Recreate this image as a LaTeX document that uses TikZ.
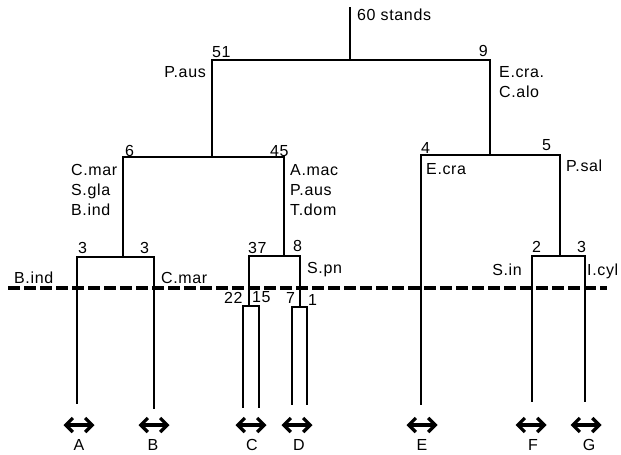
\documentclass[tikz,border=0pt]{standalone}
\usepackage{fontspec}
\setmainfont{Liberation Sans}[LetterSpace=4]
\usetikzlibrary{arrows.meta}

\begin{document}
\begin{tikzpicture}[x=1pt,y=-1pt,font=\fontsize{16}{19}\selectfont,
  every node/.style={inner sep=0pt},
  tree/.style={line width=2.7pt,line cap=rect},
  cut/.style={line width=3.8pt,dash pattern=on 12pt off 4pt},
  span/.style={line width=3.2pt,{Straight Barb[length=7pt,width=14pt]}-{Straight Barb[length=7pt,width=14pt]}}]
\useasboundingbox (0,0) rectangle (621,455);
% branch points
\coordinate (top) at (350,8);
\coordinate (n60) at (350,60);
\coordinate (n51) at (212,60);
\coordinate (n9) at (490,60);
\coordinate (n6) at (123,157);
\coordinate (n45) at (284,157);
\coordinate (n4) at (421,155);
\coordinate (n5) at (560,155);
\coordinate (n3a) at (77,257);
\coordinate (n3b) at (154,257);
\coordinate (n37) at (249,256);
\coordinate (n8) at (300,256);
\coordinate (n2) at (532,256);
\coordinate (n3c) at (585,256);
\coordinate (n22) at (243,306);
\coordinate (n15) at (259,306);
\coordinate (n7) at (292,307);
\coordinate (n1) at (307,307);
\coordinate (cutL) at (8,288);
\coordinate (cutR) at (607,288);
\draw[cut] (cutL)--(cutR);
% tree
\draw[tree] (top)--(n60);
\draw[tree] (n51)--(n9);
\draw[tree] (n51)--(n51|-n6);
\draw[tree] (n6)--(n45);
\draw[tree] (n9)--(n9|-n4);
\draw[tree] (n4)--(n5);
\draw[tree] (n6)--(n6|-n3a);
\draw[tree] (n3a)--(n3b);
\draw[tree] (n45)--(n45|-n37);
\draw[tree] (n37)--(n8);
\draw[tree] (n5)--(n5|-n2);
\draw[tree] (n2)--(n3c);
\draw[tree] (n37)--(n37|-n22);
\draw[tree] (n22)--(n15);
\draw[tree] (n8)--(n8|-n7);
\draw[tree] (n7)--(n1);
\foreach \n/\y in {n3a/403,n3b/408,n22/407,n15/407,n7/404,n1/404,n4/404,n2/401,n3c/401}
  {\draw[tree] (\n)--(\n|-0,\y);}
% counts and species
\node[anchor=base west] (stands) at (357,20) {60 stands};
\node[anchor=base west] (c51) at (212,57) {51};
\node[anchor=base east] (s51) at (206,77) {P.aus};
\node[anchor=base east] (c9) at (488,56) {9};
\node[anchor=base west] (s9a) at (499,77) {E.cra.};
\node[anchor=base west] (s9b) at (499,97) {C.alo};
\node[anchor=base west] (c6) at (125,156) {6};
\node[anchor=base west] (c45) at (270,156) {45};
\node[anchor=base west] (s6a) at (71,175) {C.mar};
\node[anchor=base west] (s6b) at (71,195) {S.gla};
\node[anchor=base west] (s6c) at (71,215) {B.ind};
\node[anchor=base west] (s45a) at (290,175) {A.mac};
\node[anchor=base west] (s45b) at (290,195) {P.aus};
\node[anchor=base west] (s45c) at (290,215) {T.dom};
\node[anchor=base west] (c4) at (421,153) {4};
\node[anchor=base west] (c5) at (542,150) {5};
\node[anchor=base west] (s4) at (426,174) {E.cra};
\node[anchor=base west] (s5) at (566,171) {P.sal};
\node[anchor=base west] (c3a) at (78,253) {3};
\node[anchor=base west] (c3b) at (140,253) {3};
\node[anchor=base west] (s3a) at (14,283) {B.ind};
\node[anchor=base west] (s3b) at (161,283) {C.mar};
\node[anchor=base west] (c37) at (248,253) {37};
\node[anchor=base west] (c8) at (293,251) {8};
\node[anchor=base west] (s8) at (307,273) {S.pn};
\node[anchor=base west] (c22) at (224,303) {22};
\node[anchor=base west] (c15) at (252,302) {15};
\node[anchor=base west] (c7) at (286,303) {7};
\node[anchor=base west] (c1) at (308,305) {1};
\node[anchor=base west] (c2) at (532,252) {2};
\node[anchor=base west] (c3c) at (577,252) {3};
\node[anchor=base east] (s2) at (522,275) {S.in};
\node[anchor=base west] (s3c) at (587,275) {I.cyl};
% groups
\foreach \g/\x/\ax in {A/79/79,B/153/154,C/252/251,D/299/297,E/422/422,F/533/531,G/589/586}
  {\node[anchor=base] (g\g) at (\x,450) {\g};
   \draw[span] ([shift={(\ax-\x,-25)}]g\g.base) ++(-15.5,0) -- ++(31,0);}
\end{tikzpicture}
\end{document}
